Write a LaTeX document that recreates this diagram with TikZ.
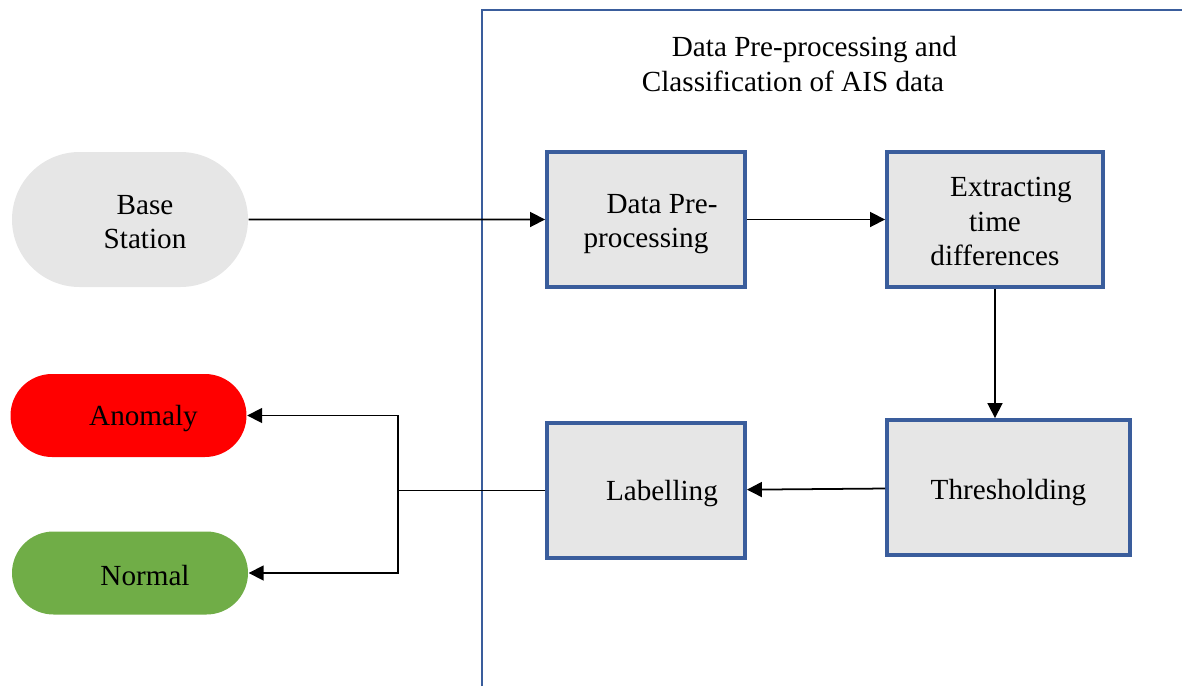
\documentclass[tikz,border=0pt]{standalone}
\usepackage{fontspec}
\setmainfont{Liberation Serif}
\usetikzlibrary{shapes.misc,arrows.meta}
\definecolor{boxblue}{HTML}{3A5D9C}
\definecolor{boxgray}{HTML}{E6E6E6}
\definecolor{okgreen}{HTML}{70AD47}

\begin{document}
\begin{tikzpicture}[
  every node/.style={font=\fontsize{8.3}{9.7}\selectfont},
  procbox/.style={draw=boxblue,line width=1.1pt,fill=boxgray,minimum height=1.35cm,inner sep=0pt},
  endpoint/.style={rounded rectangle,fill=#1,minimum width=2.36cm,minimum height=0.83cm,inner sep=0pt},
  boxtext/.style={align=center,draw=none,fill=none},
  flow/.style={-{Triangle[length=1.5mm,width=1.5mm]},line width=0.5pt}
]
\useasboundingbox (0,0) rectangle (11.82,6.86);

% frame of the processing part
\draw[boxblue,line width=0.8pt] (4.82,0) -- (4.82,6.76) -- (11.9,6.76);
\node[align=center] (title) at (7.93,6.22) {\hspace*{0.43cm}Data Pre-processing and\\Classification of AIS data};

% inputs and outputs
\node[endpoint=boxgray,minimum height=1.35cm,label={[boxtext,xshift=1.5mm,yshift=-0.3mm]center:{Base\\Station}}] (base) at (1.30,4.665) {};
\node[endpoint=red,label={[boxtext,xshift=1.5mm,yshift=-0.3mm]center:Anomaly}] (anom) at (1.285,2.705) {};
\node[endpoint=okgreen,label={[boxtext,xshift=1.5mm,yshift=-0.3mm]center:Normal}] (norm) at (1.30,1.13) {};

% processing steps
\node[procbox,minimum width=1.98cm,label={[boxtext,yshift=-0.5mm]center:{\hspace*{0.32cm}Data Pre-\\processing}}] (pre) at (6.46,4.665) {};
\node[procbox,minimum width=2.16cm,label={[boxtext,yshift=-0.2mm]center:{\hspace*{0.32cm}Extracting\\time\\differences}}] (ext) at (9.95,4.665) {};
\node[procbox,minimum width=2.43cm,label={[boxtext,yshift=-0.5mm]center:Thresholding}] (thr) at (10.085,1.985) {};
\node[procbox,minimum width=1.98cm,label={[boxtext,xshift=1.6mm,yshift=-0.3mm]center:Labelling}] (lab) at (6.46,1.955) {};

\coordinate (split) at (3.98,1.955);

\draw[flow] (base) -- (pre);
\draw[flow] (pre) -- (ext);
\draw[flow] (ext.south) -- (ext.south |- thr.north);
\draw[flow] (thr) -- (lab);
\draw[line width=0.5pt] (lab.west) -- (split);
\draw[flow] (split) |- (anom.east);
\draw[flow] (split) |- (norm.east);
\end{tikzpicture}
\end{document}
